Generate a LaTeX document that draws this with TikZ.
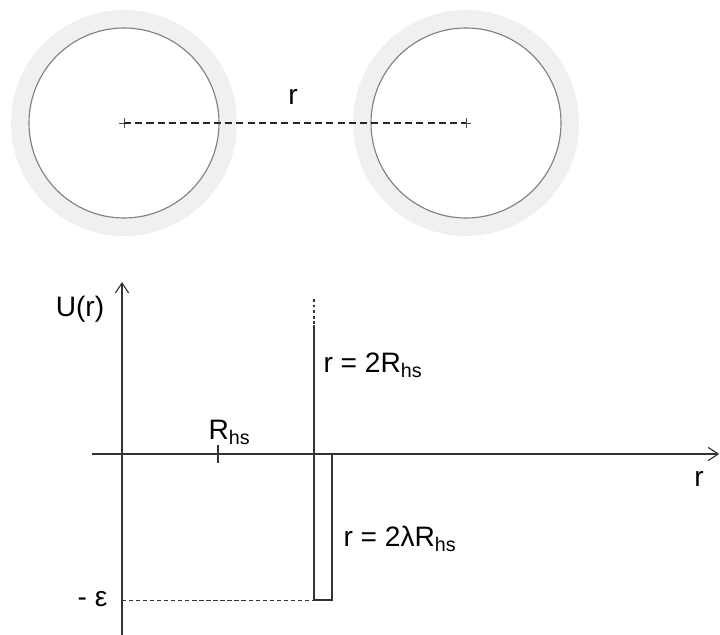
\documentclass[tikz,border=0pt]{standalone}
\usepackage{fontspec}
\setmainfont{Liberation Sans}
\usetikzlibrary{arrows.meta}

\begin{document}
\begin{tikzpicture}[line width=0.8pt,
  axis/.style={draw=black!80, -{Straight Barb[length=2.5mm,width=3.3mm]}},
  shell/.style={fill=black!6},
  core/.style={draw=black!50, fill=white},
  lbl/.style={font=\fontsize{20}{24}\selectfont, inner sep=0pt}]
  \useasboundingbox (-3.05,-4.525) rectangle (14.95,11.35);
  % two spheres
  \coordinate (P1) at (0.05,8.275);
  \coordinate (P2) at (8.6,8.275);
  \foreach \p in {P1,P2} {
    \fill[shell] (\p) circle (2.825);
    \draw[core] (\p) circle (2.375);
    \draw[black!70, line width=0.6pt] ([xshift=-0.12cm]\p) -- ([xshift=0.12cm]\p)
      ([yshift=-0.12cm]\p) -- ([yshift=0.12cm]\p);
  }
  \draw[black!85, dash pattern=on 5pt off 3pt] (P1) -- (P2);
  \node[lbl, anchor=base] (rtop) at (4.275,8.725) {r};
  % axes
  \coordinate (Ybot) at (0,-4.525);
  \coordinate (Ytop) at (0,4.3);
  \coordinate (Xl) at (-0.75,0);
  \coordinate (Xr) at (14.93,0);
  \draw[axis] (Ybot) -- (Ytop);
  \draw[axis] (Xl) -- (Xr);
  \node[lbl, anchor=base] (U) at (-1.05,3.425) {U(r)};
  \node[lbl, anchor=base] (rx) at (14.425,-0.825) {r};
  % tick at R_hs
  \coordinate (T1) at (2.4,0.225);
  \coordinate (T2) at (2.4,-0.225);
  \draw[black!80] (T1) -- (T2);
  \node[lbl, anchor=base west] (Rhs) at (2.15,0.35) {R\textsubscript{hs}};
  % hard wall and square well
  \coordinate (W0) at (4.8,3.875);
  \coordinate (W1) at (4.8,3.225);
  \coordinate (W2) at (4.8,-3.65);
  \coordinate (W3) at (5.25,-3.65);
  \coordinate (W4) at (5.25,0);
  \coordinate (E) at (0,-3.65);
  \draw[black!80, dash pattern=on 2pt off 2pt] (W0) -- (W1);
  \draw[black!80] (W1) -- (W2) -- (W3) -- (W4);
  \draw[black!80, line width=0.6pt, dash pattern=on 3pt off 2pt] (E) -- (W2);
  \node[lbl, anchor=base east] (eps) at (-0.35,-3.825) {- ε};
  \node[lbl, anchor=base west] (wall) at (5.025,2.025) {r = 2R\textsubscript{hs}};
  \node[lbl, anchor=base west] (well) at (5.525,-2.325) {r = 2λR\textsubscript{hs}};
\end{tikzpicture}
\end{document}
